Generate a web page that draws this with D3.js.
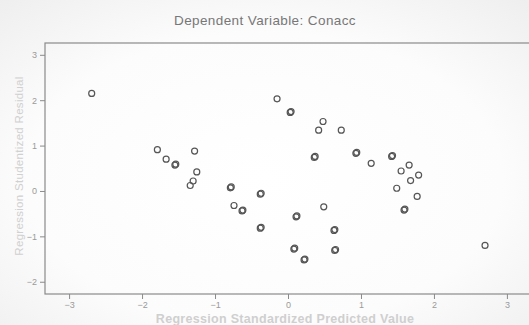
<!DOCTYPE html>
<html>
<head>
<meta charset="utf-8">
<script src="https://cdn.jsdelivr.net/npm/d3@7"></script>
<style>
  body { margin: 0; background: #fff; }
  svg { display: block; }
</style>
</head>
<body>
<div id="chart"></div>
<script>
// values
const predicted = [-2.69, -0.15, 0.03, -1.79, -1.28, -1.67, -1.55, -1.25, -1.30, -1.34,
  -0.79, -0.38, -0.74, -0.63, -0.38, 0.48, 0.42, 0.73, 0.36, 0.93, 1.14, 1.42, 1.66,
  1.55, 1.79, 1.68, 1.49, 1.77, 1.59, 0.49, 0.11, 0.63, 0.08, 0.64, 0.22, 2.70];
const residual = [2.15, 2.03, 1.73, 0.91, 0.88, 0.70, 0.57, 0.42, 0.22, 0.12,
  0.07, -0.07, -0.32, -0.44, -0.82, 1.53, 1.34, 1.34, 0.74, 0.83, 0.61, 0.76, 0.57,
  0.44, 0.35, 0.23, 0.06, -0.12, -0.42, -0.35, -0.57, -0.87, -1.28, -1.31, -1.52, -1.20];
// 2 = two cases drawn almost on top of each other
const cases = [1, 1, 2, 1, 1, 1, 2, 1, 1, 1,
  2, 2, 1, 2, 2, 1, 1, 1, 2, 2, 1, 2, 1,
  1, 1, 1, 1, 1, 2, 1, 2, 2, 2, 2, 2, 1];
const xTicks = [-3, -2, -1, 0, 1, 2, 3];
const yTicks = [-2, -1, 0, 1, 2, 3];

const width = 529, height = 325;
const svg = d3.select("#chart").append("svg")
  .attr("width", width)
  .attr("height", height)
  .style("font-family", "Arial, 'Liberation Sans', sans-serif");

const defs = svg.append("defs");
const grad = defs.append("radialGradient").attr("id", "bg")
  .attr("cx", "50%").attr("cy", "55%").attr("r", "75%");
grad.append("stop").attr("offset", "0%").attr("stop-color", "#ffffff");
grad.append("stop").attr("offset", "60%").attr("stop-color", "#fcfcfc");
grad.append("stop").attr("offset", "100%").attr("stop-color", "#eeeeee");
svg.append("rect").attr("width", width).attr("height", height).attr("fill", "url(#bg)");

const x = d3.scaleLinear().domain([-3.33, 3.33]).range([45, 531]);
const y = d3.scaleLinear().domain([-2.27, 3.26]).range([294, 43]);

// frame (right side runs off the picture)
svg.append("rect")
  .attr("x", x.range()[0]).attr("y", y.range()[1])
  .attr("width", x.range()[1] - x.range()[0])
  .attr("height", y.range()[0] - y.range()[1])
  .attr("fill", "none")
  .attr("stroke", "#8a8a8a")
  .attr("stroke-width", 1.2);

const xAxis = svg.append("g")
  .attr("transform", "translate(0," + y.range()[0] + ")")
  .call(d3.axisBottom(x).tickValues(xTicks).tickSize(5).tickPadding(3).tickFormat(d3.format("d")));
const yAxis = svg.append("g")
  .attr("transform", "translate(" + x.range()[0] + ",0)")
  .call(d3.axisLeft(y).tickValues(yTicks).tickSize(5).tickPadding(3).tickFormat(d3.format("d")));
[xAxis, yAxis].forEach(g => {
  g.select(".domain").remove();
  g.selectAll("line").attr("stroke", "#8a8a8a");
  g.selectAll("text").attr("fill", "#9a9a9a").style("font-size", "9px");
});

svg.append("text")
  .attr("x", 265).attr("y", 25)
  .attr("text-anchor", "middle")
  .attr("fill", "#777")
  .style("font-size", "13.5px")
  .style("letter-spacing", "0.4px")
  .text("Dependent Variable: Conacc");

svg.append("text")
  .attr("x", 285).attr("y", 323)
  .attr("text-anchor", "middle")
  .attr("fill", "#cfcfcf")
  .style("font-size", "12.5px")
  .style("font-weight", "bold")
  .style("letter-spacing", "0.3px")
  .text("Regression Standardized Predicted Value");

svg.append("text")
  .attr("transform", "translate(23,166) rotate(-90)")
  .attr("text-anchor", "middle")
  .attr("fill", "#d0d0d0")
  .style("font-size", "11.5px")
  .style("letter-spacing", "0.3px")
  .text("Regression Studentized Residual");

const pts = [];
predicted.forEach((p, i) => {
  pts.push({ px: p, ry: residual[i] });
  if (cases[i] > 1) pts.push({ px: p + 0.012, ry: residual[i] + 0.02 });
});

svg.append("g").selectAll("circle")
  .data(pts)
  .enter()
  .append("circle")
  .attr("cx", d => x(d.px))
  .attr("cy", d => y(d.ry))
  .attr("r", 3)
  .attr("fill", "none")
  .attr("stroke", "#555")
  .attr("stroke-width", 1.2);
</script>
</body>
</html>
